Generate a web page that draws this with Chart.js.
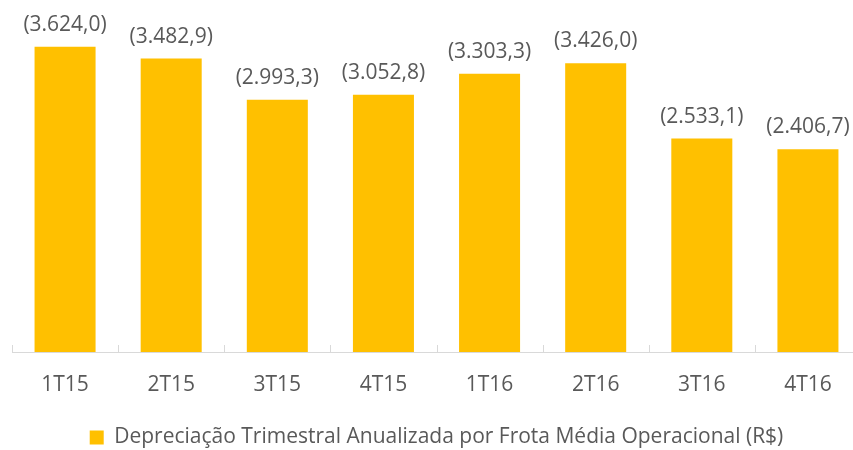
<!DOCTYPE html>
<html>
<head>
<meta charset="utf-8">
<script src="https://cdn.jsdelivr.net/npm/chart.js@4"></script>
<style>
  html, body { margin: 0; padding: 0; background: #fff; overflow: hidden; width: 853px; height: 450px; }
  /* o eixo do original passa da borda direita: o canvas é um pouco maior e fica cortado */
  #wrap { width: 861px; height: 458px; }
</style>
</head>
<body>
<div id="wrap"><canvas id="grafico"></canvas></div>
<script>
// dados do gráfico
const trimestres = ['1T15', '2T15', '3T15', '4T15', '1T16', '2T16', '3T16', '4T16'];
const depreciacao = [3624.0, 3482.9, 2993.3, 3052.8, 3303.3, 3426.0, 2533.1, 2406.7];
const nomeSerie = 'Depreciação Trimestral Anualizada por Frota Média Operacional (R$)';

const corBarra = '#FFC000';
const corTexto = '#595959';
const fonte = "'Open Sans', 'Noto Sans', sans-serif";

// formato brasileiro: (3.624,0)
function formataBR(v) {
    const partes = v.toFixed(1).split('.');
    const inteiro = partes[0].replace(/\B(?=(\d{3})+(?!\d))/g, '.');
    return '(' + inteiro + ',' + partes[1] + ')';
}

// rótulos acima das barras + marcas do eixo x
const rotulosPlugin = {
    id: 'rotulos',
    afterDatasetsDraw(chart) {
        const ctx = chart.ctx;
        const meta = chart.getDatasetMeta(0);
        const xScale = chart.scales.x;
        const base = chart.chartArea.bottom;

        // marcas curtas entre categorias
        ctx.save();
        ctx.strokeStyle = '#D9D9D9';
        ctx.lineWidth = 1;
        const passo = xScale.getPixelForValue(1) - xScale.getPixelForValue(0);
        for (let i = 0; i <= trimestres.length; i++) {
            const x = Math.round(xScale.getPixelForValue(0) - passo / 2 + i * passo) + 0.5;
            ctx.beginPath();
            ctx.moveTo(x, base);
            ctx.lineTo(x, base - 7);
            ctx.stroke();
        }
        ctx.restore();

        ctx.save();
        ctx.fillStyle = corTexto;
        ctx.font = '21px ' + fonte;
        ctx.textAlign = 'center';
        ctx.textBaseline = 'middle';
        meta.data.forEach((barra, i) => {
            ctx.fillText(formataBR(depreciacao[i]), barra.x, barra.y - 22);
        });
        ctx.restore();
    }
};

new Chart(document.getElementById('grafico'), {
    type: 'bar',
    data: {
        labels: trimestres,
        datasets: [{
            label: nomeSerie,
            data: depreciacao,
            backgroundColor: corBarra,
            borderWidth: 0,
            barPercentage: 0.575,
            categoryPercentage: 1.0
        }]
    },
    options: {
        responsive: true,
        maintainAspectRatio: false,
        animation: false,
        layout: { padding: { top: 15, left: 12, right: 0, bottom: 0 } },
        plugins: {
            tooltip: { enabled: false },
            legend: {
                position: 'bottom',
                labels: {
                    color: corTexto,
                    font: { family: fonte, size: 21 },
                    boxWidth: 14,
                    boxHeight: 14,
                    padding: 0
                }
            }
        },
        scales: {
            x: {
                grid: { display: false, drawTicks: false },
                border: { display: true, color: '#D9D9D9', width: 1 },
                ticks: { color: corTexto, font: { family: fonte, size: 21 }, padding: 20 },
                afterFit(escala) { escala.height = 75; }
            },
            y: {
                display: false,
                min: 0,
                max: 4000
            }
        }
    },
    plugins: [rotulosPlugin]
});
</script>
</body>
</html>
